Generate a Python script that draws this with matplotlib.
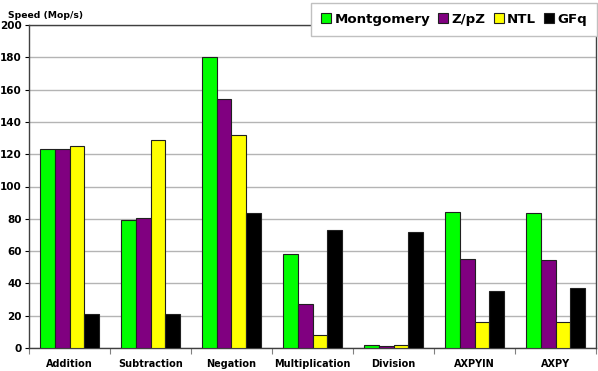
import numpy as np
import matplotlib.pyplot as plt

categories = ["Addition", "Subtraction", "Negation", "Multiplication", "Division", "AXPYIN", "AXPY"]
series_names = ["Montgomery", "Z/pZ", "NTL", "GFq"]
montgomery = [123, 79, 180, 58, 1.8, 84, 83.5]
zpz = [123, 80.3, 154, 27, 1.4, 55, 54.5]
ntl = [125.3, 129, 132, 8.2, 1.6, 16.2, 16]
gfq = [21.2, 21.2, 83.3, 73.3, 71.6, 35, 37.3]
colors = ["#00ff00", "#800080", "#ffff00", "#000000"]

fig = plt.figure(figsize=(5.98, 3.71), dpi=100)
ax = fig.add_axes([29 / 598, 23 / 371, 567 / 598, 323 / 371])

x = np.arange(len(categories))
w = 0.18
for i, (vals, c) in enumerate(zip([montgomery, zpz, ntl, gfq], colors)):
    ax.bar(x + (i - 1.5) * w, vals, w, color=c, edgecolor="#202020", linewidth=0.8,
           label=series_names[i], zorder=3)

ax.set_xlim(-0.5, len(categories) - 0.5)
ax.set_ylim(0, 200)
ax.set_yticks(range(0, 201, 20))
ax.yaxis.grid(True, color="#b4b4b4", linewidth=1, zorder=0)
ax.set_xticks(np.arange(-0.5, len(categories), 1))
ax.set_xticklabels([])
ax.set_xticks(x, minor=True)
ax.set_xticklabels(categories, minor=True, fontsize=7, fontweight="bold")
ax.tick_params(axis="x", which="minor", length=0, pad=8)
ax.tick_params(axis="x", which="major", length=4, color="#808080")
ax.tick_params(axis="y", length=3, labelsize=7.5, pad=2)
for lbl in ax.get_yticklabels():
    lbl.set_fontweight("bold")
for s in ax.spines.values():
    s.set_color("#404040")
    s.set_linewidth(1)

fig.text(8 / 598, 1 - 15 / 371, "Speed (Mop/s)", fontsize=6.7, fontweight="bold", va="center")

leg = fig.legend(loc="upper right", bbox_to_anchor=(597 / 598, 1 - 3 / 371), ncol=4,
                 prop={"size": 9.6, "weight": "bold"}, fancybox=False, framealpha=1,
                 edgecolor="#c0c0c0", handlelength=0.75, handleheight=0.75,
                 handletextpad=0.25, columnspacing=0.6, borderpad=0.75, borderaxespad=0)
leg.get_frame().set_linewidth(1)

fig.savefig("out.png", dpi=100)
